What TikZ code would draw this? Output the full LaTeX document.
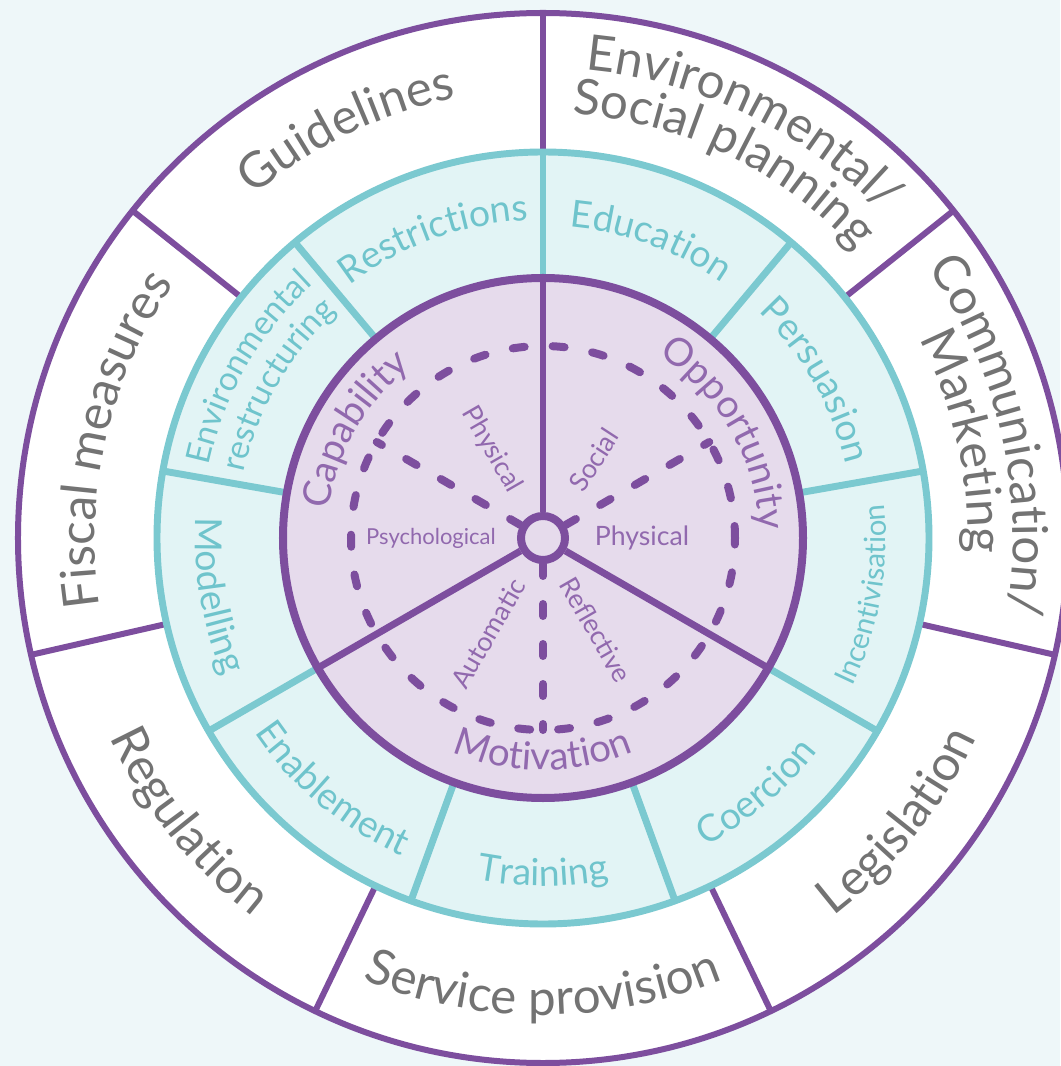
\documentclass[tikz,border=0pt]{standalone}
\usepackage{fontspec}
\setmainfont{Lato}
\usetikzlibrary{decorations.text}
\definecolor{bgblue}{HTML}{EEF7F9}
\definecolor{wheelpurple}{HTML}{7D4E9E}
\definecolor{lightpurple}{HTML}{E6DBEC}
\definecolor{labelpurple}{HTML}{9169AE}
\definecolor{wheelteal}{HTML}{7BC9D0}
\definecolor{lightteal}{HTML}{E2F4F5}
\definecolor{labelteal}{HTML}{6FC4CC}
\definecolor{policygray}{HTML}{737373}
\tikzset{
    purpleline/.style={draw=wheelpurple, line width=4.5pt}, % rim of the wheel
    spokeline/.style={draw=wheelpurple, line width=5.2pt}, % spokes of the COM-B circle
    tealline/.style={draw=wheelteal, line width=5.2pt}, % ring of the intervention functions
    dashline/.style={draw=wheelpurple, line width=6pt, line cap=round, dash pattern=on 9pt off 21pt},
    hubcircle/.style={circle, draw=wheelpurple, line width=6pt, fill=lightpurple, minimum size=33pt, inner sep=0pt},
    sublabel/.style={text=labelpurple, font=\fontsize{20}{20}\selectfont, inner sep=0pt},
}
% text bent round the centre, tops outward: angle, radius, size, colour, text
\newcommand{\outlabel}[5]{\path[decorate, decoration={text along path, text align=center,
    text={|\fontsize{#3}{#3}\selectfont\color{#4}|#5}}] (#1+80:#2) arc[start angle=#1+80, end angle=#1-80, radius=#2];}
% the same, tops inward
\newcommand{\inlabel}[5]{\path[decorate, decoration={text along path, text align=center,
    text={|\fontsize{#3}{#3}\selectfont\color{#4}|#5}}] (#1-80:#2) arc[start angle=#1-80, end angle=#1+80, radius=#2];}

\begin{document}
\begin{tikzpicture}[x=0.75pt, y=0.75pt]
    \fill[bgblue] (-543,538) rectangle (517,-528);
    \useasboundingbox (-543,538) rectangle (517,-528);
    \filldraw[purpleline, fill=white] (0,0) circle (525);
    \foreach \k in {0,...,6}
        \draw[purpleline] (90-\k*360/7:386) -- (90-\k*360/7:525);
    \filldraw[tealline, fill=lightteal] (0,0) circle (386);
    \foreach \k in {0,...,8}
        \draw[tealline] (90-\k*40:260) -- (90-\k*40:386);
    \filldraw[purpleline, line width=6pt, fill=lightpurple] (0,0) circle (260);
    \draw[dashline] (0,0) circle (192);
    \node[hubcircle] (hub) at (0,0) {};
    \foreach \a in {150,30,-90}
        \draw[dashline] (hub.\a) -- (\a:192);
    \foreach \a in {90,-30,210}
        \draw[spokeline] (hub.\a) -- (\a:260);

    \outlabel{115.7}{448}{37}{policygray}{Guidelines}
    \outlabel{167.1}{448}{37}{policygray}{Fiscal measures}
    \outlabel{64.3}{470}{37}{policygray}{Environmental/}
    \outlabel{64.3}{425}{37}{policygray}{Social planning}
    \outlabel{12.9}{470}{37}{policygray}{Communication/}
    \outlabel{12.9}{425}{37}{policygray}{Marketing}
    \inlabel{-38.6}{477}{37}{policygray}{Legislation}
    \inlabel{-90}{477}{37}{policygray}{Service provision}
    \inlabel{-141.4}{477}{37}{policygray}{Regulation}

    \outlabel{110}{318}{28}{labelteal}{Restrictions}
    \outlabel{70}{312}{28}{labelteal}{Education}
    \outlabel{30}{312}{28}{labelteal}{Persuasion}
    \outlabel{150}{342}{25}{labelteal}{Environmental}
    \outlabel{150}{306}{25}{labelteal}{restructuring}
    \inlabel{-10}{343}{22}{labelteal}{Incentivisation}
    \inlabel{-50}{348}{28}{labelteal}{Coercion}
    \inlabel{-90}{348}{28}{labelteal}{Training}
    \inlabel{-130}{348}{28}{labelteal}{Enablement}
    \inlabel{190}{348}{28}{labelteal}{Modelling}

    \outlabel{150}{216}{29}{labelpurple}{Capability}
    \outlabel{30}{216}{29}{labelpurple}{Opportunity}
    \inlabel{-90}{232}{29}{labelpurple}{Motivation}

    \node[sublabel, rotate=-60] (capphys) at (120:102) {Physical};
    \node[sublabel, font=\fontsize{16.5}{16.5}\selectfont] (cappsych) at (180:112) {Psychological};
    \node[sublabel, rotate=57] (oppsoc) at (57:93) {Social};
    \node[sublabel] (oppphys) at (0:99) {Physical};
    \node[sublabel, rotate=60] (motauto) at (240:110) {Automatic};
    \node[sublabel, rotate=-60] (motrefl) at (300:106) {Reflective};
\end{tikzpicture}
\end{document}
